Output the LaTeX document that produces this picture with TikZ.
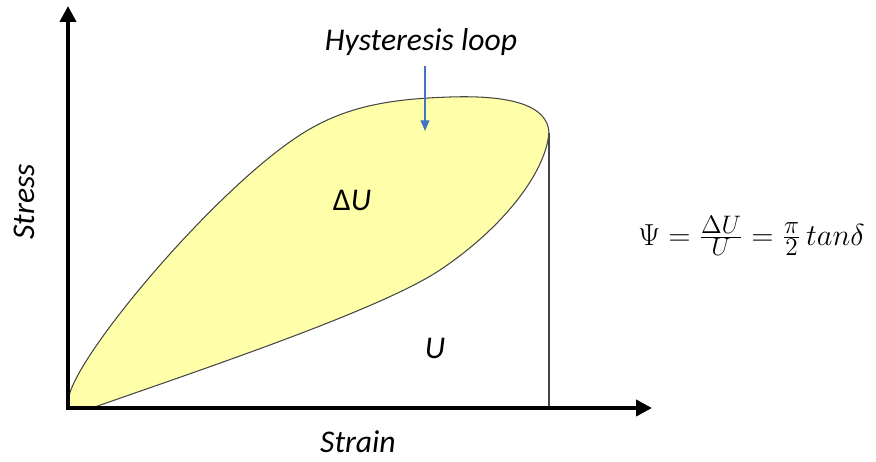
\documentclass[tikz,border=0pt]{standalone}
\usepackage{fontspec}
\setmainfont{Carlito}
\usepackage{tikz}
\usetikzlibrary{arrows.meta}
\definecolor{loopfill}{RGB}{255,255,170}
\definecolor{loopline}{RGB}{70,70,70}
\definecolor{ppblue}{RGB}{68,114,196}

\begin{document}
\begin{tikzpicture}[x=0.02cm,y=-0.02cm,font=\fontsize{18}{20}\selectfont\itshape,
    axis/.style={line width=2.4pt,-{Triangle[length=9pt,width=9pt]}}]
    \useasboundingbox (0,0) rectangle (876,462);
    \coordinate (origin) at (68,408);
    \coordinate (xend) at (652,408);
    \coordinate (yend) at (68,6);
    \coordinate (tip) at (549,133);
    \coordinate (foot) at (549,408);
    % loop
    \draw[loopline,fill=loopfill,line width=0.6pt] (origin) -- (69,396)
      .. controls (80,350) and (215,190) .. (300,135)
      .. controls (345,106) and (390,99) .. (450,97)
      .. controls (510,95) and (548,105) .. (tip)
      .. controls (545,175) and (500,230) .. (440,270)
      .. controls (380,310) and (200,370) .. (92,408) -- cycle;
    \draw[loopline,line width=0.6pt] (tip) -- (foot);
    \draw[axis] (66,408) -- (xend);
    \draw[axis] (68,410) -- (yend);
    % labels
    \node (hyst) at (421,42) {Hysteresis loop};
    \coordinate (hystpt) at (425,131);
    \draw[ppblue,line width=0.6pt,-{Triangle[length=6pt,width=5pt]}] (425,66) -- (hystpt);
    \node (dU) at (352,200) {{\upshape Δ}U};
    \node (U) at (435,348) {U};
    \node[rotate=90] (stress) at (24,202) {Stress};
    \node (strain) at (358,442) {Strain};
    \node[font=\fontsize{19}{21}\selectfont,anchor=west,inner sep=0pt] (psi) at (638,236) {$\Psi=\frac{\Delta U}{U}=\frac{\pi}{2}\,tan\delta$};
\end{tikzpicture}
\end{document}
